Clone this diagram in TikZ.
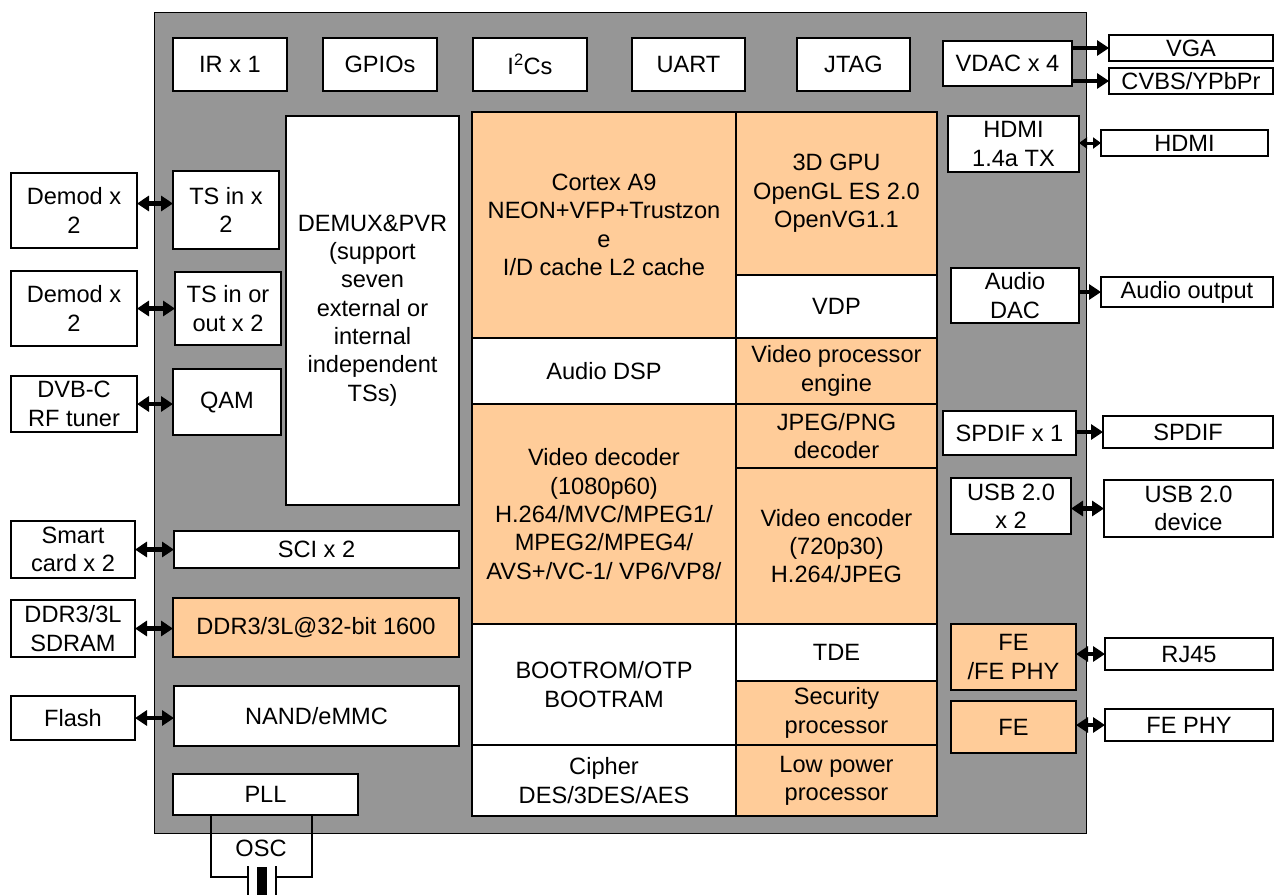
\documentclass[tikz,border=0pt]{standalone}
\usepackage{fontspec}
\setmainfont{Liberation Sans}
\usepackage{xcolor}
\definecolor{chipgray}{RGB}{150,150,150}
\definecolor{peach}{RGB}{255,204,153}
\usepackage{tikz}
\usetikzlibrary{arrows.meta,positioning}

\begin{document}
\begin{tikzpicture}[
  x=1pt,y=-1pt,
  lbl/.style={font=\fontsize{23.6}{28.3}\selectfont},
  blk/.style={rectangle,draw,line width=1.3pt,inner sep=0pt,outer sep=0pt,align=center,lbl},
  wbox/.style={blk,fill=white},
  obox/.style={blk,fill=peach},
  chip/.style={rectangle,draw,line width=1.3pt,fill=chipgray},
  sz/.style 2 args={minimum width=#1pt,minimum height=#2pt},
  arrow/.style={-{Triangle[length=12pt,width=15pt]},line width=4.5pt},
  darrow/.style={{Triangle[length=12pt,width=15pt]}-{Triangle[length=12pt,width=15pt]},line width=4.5pt},
  sdarrow/.style={{Triangle[length=8pt,width=11pt]}-{Triangle[length=8pt,width=11pt]},line width=3pt},
  wire/.style={line width=1.3pt}
]
  \useasboundingbox (0,0) rectangle (1275,895);

  % SoC
  \node[chip,sz={932}{821},anchor=north west] (soc) at (154,12) {};

  % Top row
  \node[wbox,sz={114}{53},anchor=north west] (ir) at (173,38) {IR x 1};
  \node[wbox,sz={114}{53},anchor=north west] (gpio) at (323,38) {GPIOs};
  \node[wbox,sz={114}{53},anchor=north west] (i2c) at (473,38) {I\textsuperscript{2}Cs};
  \node[wbox,sz={113}{53},anchor=north west] (uart) at (632,38) {UART};
  \node[wbox,sz={113}{53},anchor=north west] (jtag) at (797,38) {JTAG};
  \node[wbox,sz={129}{45},anchor=north west] (vdac) at (943,41) {VDAC x 4};

  % Core, left column
  \node[obox,sz={264}{226},anchor=north west] (cortex) at (472,112) {Cortex A9\\NEON+VFP+Trustzon\\e\\I/D cache L2 cache};
  \node[wbox,sz={264}{66},below=0pt of cortex] (adsp) {Audio DSP};
  \node[obox,sz={264}{220},below=0pt of adsp] (vdec) {Video decoder\\(1080p60)\\H.264/MVC/MPEG1/\\MPEG2/MPEG4/\\AVS+/VC-1/ VP6/VP8/};
  \node[wbox,sz={264}{121},below=0pt of vdec] (boot) {BOOTROM/OTP\\BOOTRAM};
  \node[wbox,sz={264}{71},below=0pt of boot] (cipher) {Cipher\\DES/3DES/AES};

  % Core, right column
  \node[obox,sz={201}{163},anchor=north west] (gpu) at (736,112) {3D GPU\\OpenGL ES 2.0\\OpenVG1.1};
  \node[wbox,sz={201}{63},below=0pt of gpu] (vdp) {VDP};
  \node[obox,sz={201}{66},below=0pt of vdp] (vpe) {Video processor\\engine};
  \node[obox,sz={201}{64},below=0pt of vpe] (jpeg) {JPEG/PNG\\decoder};
  \node[obox,sz={201}{156},below=0pt of jpeg] (venc) {Video encoder\\(720p30)\\H.264/JPEG};
  \node[wbox,sz={201}{57},below=0pt of venc] (tde) {TDE};
  \node[obox,sz={201}{64},below=0pt of tde] (sec) {Security\\processor};
  \node[obox,sz={201}{71},below=0pt of sec] (lowp) {Low power\\processor};

  % Left interfaces
  \node[wbox,sz={106}{78},anchor=north west] (tsin) at (173,171) {TS in x\\2};
  \node[wbox,sz={106}{73},anchor=north west] (tsio) at (175,272) {TS in or\\out x 2};
  \node[wbox,sz={108}{66},anchor=north west] (qam) at (173,369) {QAM};
  \node[wbox,sz={173}{389},anchor=north west] (demux) at (286,116) {DEMUX\&PVR\\(support\\seven\\external or\\internal\\independent\\TSs)};
  \node[wbox,sz={285}{37},anchor=north west] (sci) at (174,531) {SCI x 2};
  \node[obox,sz={286}{59},anchor=north west] (ddr) at (173,598) {DDR3/3L@32-bit 1600};
  \node[wbox,sz={285}{60},anchor=north west] (nand) at (174,686) {NAND/eMMC};
  \node[wbox,sz={185}{41},anchor=north west] (pll) at (173,774) {PLL};

  % Right interfaces
  \node[wbox,sz={131}{56},anchor=north west] (hdmitx) at (948,116) {HDMI\\1.4a TX};
  \node[wbox,sz={128}{55},anchor=north west] (adac) at (951,268) {Audio\\DAC};
  \node[wbox,sz={133}{44},anchor=north west] (spdifx) at (943,411) {SPDIF x 1};
  \node[wbox,sz={120}{56},anchor=north west] (usbx) at (951,478) {USB 2.0\\x 2};
  \node[obox,sz={125}{66},anchor=north west] (fephy) at (951,624) {FE\\/FE PHY};
  \node[obox,sz={125}{52},anchor=north west] (fe) at (951,701) {FE};

  % External, left
  \node[wbox,sz={126}{75},anchor=north west] (demod1) at (11,173) {Demod x\\2};
  \node[wbox,sz={126}{75},anchor=north west] (demod2) at (11,271) {Demod x\\2};
  \node[wbox,sz={126}{56},anchor=north west] (dvbc) at (11,376) {DVB-C\\RF tuner};
  \node[wbox,sz={124}{57},anchor=north west] (smart) at (11,521) {Smart\\card x 2};
  \node[wbox,sz={124}{57},anchor=north west] (sdram) at (11,600) {DDR3/3L\\SDRAM};
  \node[wbox,sz={124}{44},anchor=north west] (flash) at (11,696) {Flash};

  % External, right
  \node[wbox,sz={164}{26},anchor=north west] (vga) at (1109,35) {VGA};
  \node[wbox,sz={164}{26},anchor=north west] (cvbs) at (1109,68) {CVBS/YPbPr};
  \node[wbox,sz={167}{26},anchor=north west] (hdmi) at (1101,130) {HDMI};
  \node[wbox,sz={172}{30},anchor=north west] (aout) at (1101,277) {Audio output};
  \node[wbox,sz={170}{32},anchor=north west] (spdif) at (1103,416) {SPDIF};
  \node[wbox,sz={169}{57},anchor=north west] (usbdev) at (1104,480) {USB 2.0\\device};
  \node[wbox,sz={168}{32},anchor=north west] (rj45) at (1105,638) {RJ45};
  \node[wbox,sz={168}{32},anchor=north west] (fephyx) at (1105,709) {FE PHY};

  % Arrows
  \draw[darrow] ([yshift=7pt]demod1.east) -- ([yshift=7pt]demod1.east -| tsin.west);
  \draw[darrow] (demod2.east) -- (demod2.east -| tsio.west);
  \draw[darrow] (dvbc.east) -- (dvbc.east -| qam.west);
  \draw[darrow] (smart.east) -- (smart.east -| sci.west);
  \draw[darrow] (sdram.east) -- (sdram.east -| ddr.west);
  \draw[darrow] (flash.east) -- (flash.east -| nand.west);
  \draw[arrow] (vdac.east |- vga.west) -- (vga.west);
  \draw[arrow] (vdac.east |- cvbs.west) -- (cvbs.west);
  \draw[sdarrow] (hdmitx.east |- hdmi.west) -- (hdmi.west);
  \draw[arrow] (adac.east |- aout.west) -- (aout.west);
  \draw[arrow] (spdifx.east |- spdif.west) -- (spdif.west);
  \draw[darrow] (usbx.east |- usbdev.west) -- (usbdev.west);
  \draw[darrow] (fephy.east |- rj45.west) -- (rj45.west);
  \draw[darrow] (fe.east |- fephyx.west) -- (fephyx.west);

  % Crystal
  \coordinate (xl) at (248,877);
  \coordinate (xr) at (276,877);
  \draw[wire] ([xshift=-54.5pt]pll.south) |- (xl);
  \draw[wire] ([xshift=46.5pt]pll.south) |- (xr);
  \draw[wire] (248,866) -- (248,895);
  \draw[wire] (276,866) -- (276,895);
  \fill (257,867) rectangle (267,895);
  \node[lbl] (osc) at (261,848) {OSC};
\end{tikzpicture}
\end{document}
